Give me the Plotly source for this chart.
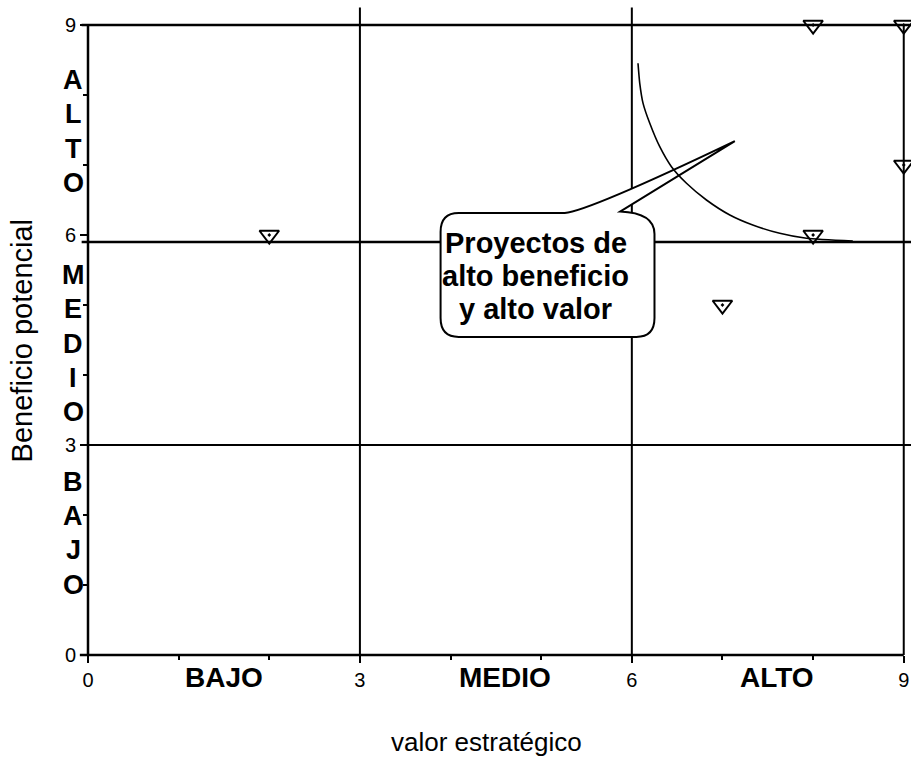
import plotly.graph_objects as go

# Projects: strategic value (x) vs potential benefit (y)
valor = [2.0, 8.0, 9.0, 9.0, 8.0, 7.0]
beneficio = [6.0, 9.0, 9.0, 7.0, 6.0, 5.0]

# Hand-drawn frontier of the high-benefit / high-value region
curva_x = [6.068, 6.087, 6.124, 6.198, 6.308, 6.437, 6.603, 6.823, 7.081, 7.334, 7.632, 7.927, 8.438]
curva_y = [8.453, 8.171, 7.881, 7.596, 7.261, 6.976, 6.739, 6.500, 6.286, 6.143, 6.024, 5.953, 5.914]

tick_vals = [0, 3, 6, 9]
minor_vals = [1, 2, 4, 5, 7, 8]

# Level names along each axis
niveles = ["BAJO", "MEDIO", "ALTO"]
niveles_x = [1.5, 4.6, 7.6]          # centres under the x axis
niveles_y = [1.74, 4.45, 7.48]       # centres of the stacked letters on the y axis
paso_letra = 0.49                    # vertical step between stacked letters

# Callout text, one entry per line
globo_lineas = ["Proyectos de", "alto beneficio", "y alto valor"]
globo_y = [5.886, 5.414, 4.943]
globo_x = 4.94

# Quadrant separators
lineas_h = [9.0, 5.9, 3.0]
lineas_v = [3.0, 6.0, 9.0]

X_MAX, Y_MAX = 9.08, 9.3
FONT = "Liberation Sans, Arial, sans-serif"


def fx(v):
    return v / X_MAX


def fy(v):
    return v / Y_MAX


fig = go.Figure()

# frontier curve
fig.add_trace(go.Scatter(
    x=curva_x, y=curva_y, mode="lines",
    line=dict(color="black", width=1.6, shape="spline", smoothing=0.6),
    hoverinfo="skip", showlegend=False,
))

# projects
fig.add_trace(go.Scatter(
    x=valor, y=beneficio, mode="markers",
    marker=dict(symbol="triangle-down-open-dot", size=17, color="black",
                line=dict(color="black", width=2)),
    showlegend=False,
))

shapes = []
# axis frame
shapes.append(dict(type="line", xref="paper", yref="paper",
                   x0=0, x1=0, y0=fy(0), y1=fy(9), line=dict(color="black", width=2.5)))
shapes.append(dict(type="line", xref="paper", yref="paper",
                   x0=fx(-0.09), x1=fx(9), y0=0, y1=0, line=dict(color="black", width=2.5)))
# horizontal separators (run to the right edge)
for i, h in enumerate(lineas_h):
    shapes.append(dict(type="line", xref="paper", yref="paper",
                       x0=fx(-0.07), x1=1, y0=fy(h), y1=fy(h),
                       line=dict(color="black", width=2.6 if i < 2 else 2), layer="below"))
# vertical separators
for v in lineas_v:
    top = 9.0 if v == 9 else 9.25
    shapes.append(dict(type="line", xref="paper", yref="paper",
                       x0=fx(v), x1=fx(v), y0=0, y1=fy(top),
                       line=dict(color="black", width=2), layer="below"))

# speech bubble with tail
L, R, T, B = 3.89, 6.25, 6.314, 4.543
rx, ry = 0.2, 0.27
rx2, ry2 = 0.24, 0.30
tail_a, tail_b = 5.26, 5.87
tip_x, tip_y = 7.136, 7.34
path = (
    f"M {L},{B + ry} "
    f"L {L},{T - ry} Q {L},{T} {L + rx},{T} "
    f"L {tail_a},{T} "
    f"Q {tail_a + 0.25},{T + 0.02} {tip_x},{tip_y} "
    f"L {tail_b},{T + 0.02} "
    f"Q {R},{T} {R},{T - ry2} "
    f"L {R},{B + ry} Q {R},{B} {R - rx},{B} "
    f"L {L + rx},{B} Q {L},{B} {L},{B + ry} Z"
)
shapes.append(dict(type="path", xref="x", yref="y", path=path,
                   fillcolor="white", line=dict(color="black", width=2), layer="below"))

annotations = []
# bubble text
for line_text, yy in zip(globo_lineas, globo_y):
    annotations.append(dict(
        x=globo_x, y=yy, xref="x", yref="y", showarrow=False,
        xanchor="center", yanchor="middle", text=f"<b>{line_text}</b>",
        font=dict(family=FONT, size=29, color="black"),
    ))
# level names under x axis
for name, xc in zip(niveles, niveles_x):
    annotations.append(dict(
        x=xc, y=-0.034, xref="x", yref="paper", showarrow=False,
        xanchor="center", yanchor="middle", text=f"<b>{name}</b>",
        font=dict(family=FONT, size=28, color="black"),
    ))
# stacked letters on y axis
for name, yc in zip(niveles, niveles_y):
    n = len(name)
    for i, ch in enumerate(name):
        yy = yc + (n - 1) / 2 * paso_letra - i * paso_letra
        annotations.append(dict(
            x=-0.018, y=yy, xref="paper", yref="y", showarrow=False,
            xanchor="center", yanchor="middle", text=f"<b>{ch}</b>",
            font=dict(family=FONT, size=27, color="black"),
        ))
# axis titles
annotations.append(dict(
    x=0.484, y=-0.134, xref="paper", yref="paper", showarrow=False,
    xanchor="center", yanchor="middle",
    text="valor estratégico", font=dict(family=FONT, size=26, color="black"),
))
annotations.append(dict(
    x=-0.080, y=0.482, xref="paper", yref="paper", showarrow=False,
    xanchor="center", yanchor="middle",
    textangle=-90, text="Beneficio potencial",
    font=dict(family=FONT, size=29, color="black"),
))

fig.update_layout(
    width=911, height=770,
    margin=dict(l=88, r=0, t=4, b=115),
    paper_bgcolor="white", plot_bgcolor="white",
    shapes=shapes, annotations=annotations,
    xaxis=dict(
        range=[0, X_MAX], tickvals=tick_vals, showgrid=False, zeroline=False,
        showline=False, ticks="outside", ticklen=7, tickwidth=2, tickcolor="black",
        tickfont=dict(family=FONT, size=20, color="black"),
        minor=dict(tickvals=minor_vals, ticks="outside", ticklen=4,
                   tickwidth=1.5, tickcolor="black", showgrid=False),
    ),
    yaxis=dict(
        range=[0, Y_MAX], tickvals=tick_vals, showgrid=False, zeroline=False,
        showline=False, ticks="outside", ticklen=7, tickwidth=2, tickcolor="black",
        tickfont=dict(family=FONT, size=20, color="black"),
        minor=dict(tickvals=minor_vals, ticks="outside", ticklen=4,
                   tickwidth=1.5, tickcolor="black", showgrid=False),
    ),
)

fig.write_html("out.html")
